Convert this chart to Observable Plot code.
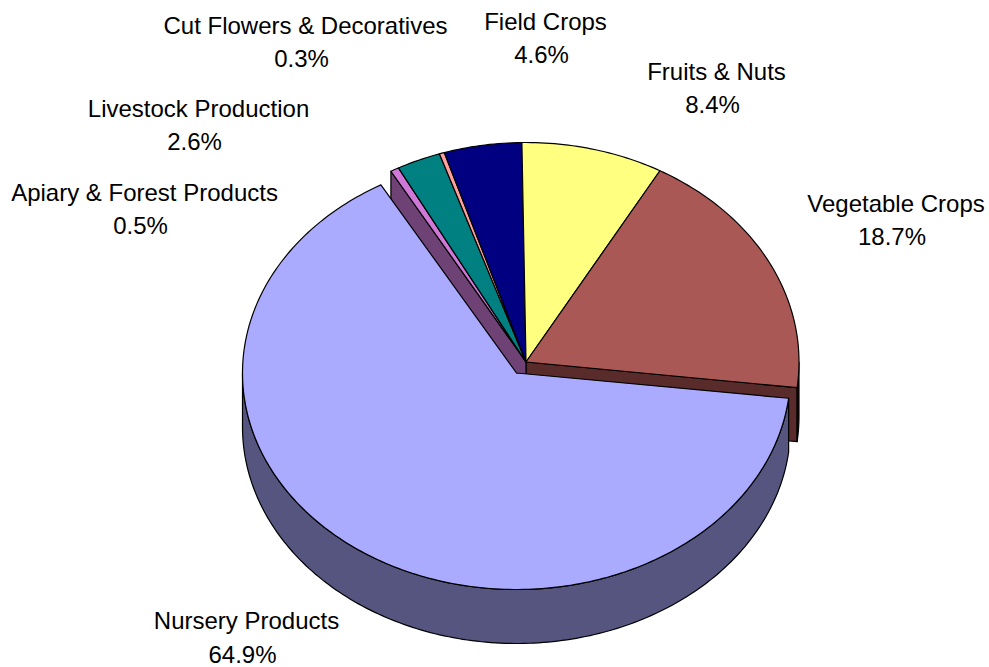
<!DOCTYPE html>
<html>
<head>
<meta charset="utf-8">
<script src="https://cdn.jsdelivr.net/npm/d3@7"></script>
<script src="https://cdn.jsdelivr.net/npm/@observablehq/plot@0.6"></script>
<style>
html,body{margin:0;padding:0;background:#fff;}
svg{display:block;}
</style>
</head>
<body>
<div id="chart"></div>
<script>
// Data, clockwise from the exploded slice
const categories = ["Nursery Products","Apiary & Forest Products","Livestock Production","Cut Flowers & Decoratives","Field Crops","Fruits & Nuts","Vegetable Crops"];
const shares = [64.9,0.5,2.6,0.3,4.6,8.4,18.7];
const colors = ["#AAAAFF","#D078D8","#008080","#FF9F9F","#000080","#FFFF80","#AA5855"];
const wallColors = {nursery:"#55557F",apiary:"#6E4275",vegCut:"#5A2B2B",vegOuter:"#1c0e0e"};

// Layout of the tilted pie and label placement
const startAngle = 96.7;
const pie = {cx:525.5,cy:361.5,rx:273,ry:219.5,depth:54};
const exploded = {cx:516,cy:372.5,rx:274,ry:216.5};
const labelCenters = [[246,621],[144,192.5],[198,108.5],[305,25.5],[545,21.5],[716,71.5],[895.5,203.5]];
const labelGap = 33.5;
const pctShift = -4;

const rad = d => d*Math.PI/180;
const onRim = (g,t,drop=0) => ({x:g.cx+g.rx*Math.sin(rad(t)), y:g.cy-g.ry*Math.cos(rad(t))+drop});
const arc = (g,a,b,drop=0) => {
  const n = Math.max(2,Math.ceil(Math.abs(b-a)));
  return d3.range(n+1).map(i => onRim(g,a+(b-a)*i/n,drop));
};
const closed = pts => [...pts,pts[0]];
const center = (g,drop=0) => ({x:g.cx,y:g.cy+drop});

let acc = startAngle;
const slices = shares.map((s,i) => {
  const a = acc; acc += s*3.6;
  return {name:categories[i],share:s,color:colors[i],a,b:acc,g:i===0?exploded:pie};
});
const topFace = s => closed([center(s.g),...arc(s.g,s.a,s.b)]);
const wall = (g,a,b) => closed([...arc(g,a,b),...arc(g,b,a,pie.depth)]);
const cut = (g,t) => closed([center(g),onRim(g,t),onRim(g,t,pie.depth),center(g,pie.depth)]);

const nursery = slices[0];
const faces = [
  {pts:cut(pie,startAngle),fill:wallColors.vegCut},
  {pts:wall(pie,90,startAngle),fill:wallColors.vegOuter},
  {pts:cut(pie,nursery.b),fill:wallColors.apiary},
  {pts:wall(exploded,startAngle,270),fill:wallColors.nursery},
  ...slices.map(s => ({pts:topFace(s),fill:s.color}))
];

const labels = slices.map((s,i) => ({
  name:s.name,
  pct:s.share.toFixed(1)+"%",
  x:labelCenters[i][0],
  y:labelCenters[i][1]
}));
const textStyle = {fontFamily:"'Liberation Sans',Arial,sans-serif",fontSize:24,fill:"#000",textAnchor:"middle",lineAnchor:"middle"};

const chart = Plot.plot({
  width:989,height:667,
  margin:0,
  x:{domain:[0,989],range:[0,989],axis:null},
  y:{domain:[0,667],range:[0,667],axis:null},
  style:{background:"#fff"},
  marks:[
    ...faces.map(f => Plot.line(f.pts,{x:"x",y:"y",fill:f.fill,stroke:"#000",strokeWidth:1.2,strokeLinejoin:"round"})),
    Plot.text(labels,{x:"x",y:"y",text:"name",...textStyle}),
    Plot.text(labels,{x:"x",y:d=>d.y+labelGap,text:"pct",dx:pctShift,...textStyle})
  ]
});
document.getElementById("chart").append(chart);
</script>
</body>
</html>
